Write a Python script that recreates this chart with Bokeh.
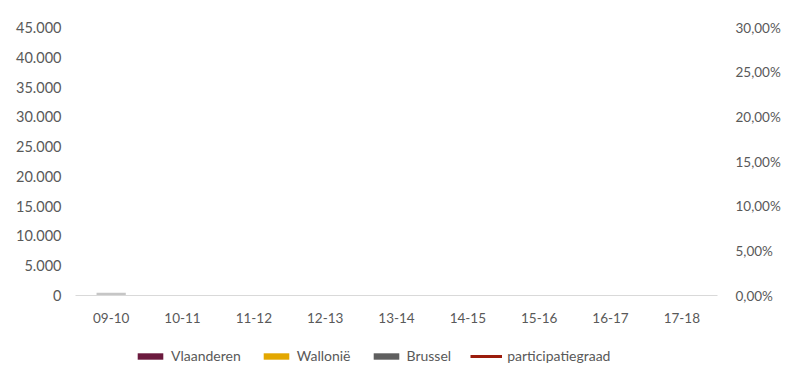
from bokeh.plotting import figure
from bokeh.layouts import column
from bokeh.models import (Range1d, LinearAxis, FixedTicker, CustomJSTickFormatter,
                          Legend, LegendItem, ColumnDataSource, FactorRange)
from bokeh.embed import file_html
from bokeh.resources import INLINE

categories = ["09-10", "10-11", "11-12", "12-13", "13-14", "14-15", "15-16", "16-17", "17-18"]
vlaanderen = [0, 0, 0, 0, 0, 0, 0, 0, 0]
wallonie = [0, 0, 0, 0, 0, 0, 0, 0, 0]
brussel = [450, 0, 0, 0, 0, 0, 0, 0, 0]
participatiegraad = [-1, -1, -1, -1, -1, -1, -1, -1, -1]  # not yet drawn (below range)
left_ticks = [0, 5000, 10000, 15000, 20000, 25000, 30000, 35000, 40000, 45000]
right_ticks = [0, 0.05, 0.10, 0.15, 0.20, 0.25, 0.30]
series_names = ["Vlaanderen", "Wallonië", "Brussel", "participatiegraad"]

FONT = "Lato"
TXT = "#595959"
C_VL, C_WA, C_BR, C_PG = "#6b1a3e", "#e3a700", "#5f5f5f", "#9b1c0c"

p = figure(x_range=FactorRange(*categories), y_range=Range1d(0, 45000),
           width=784, height=330, output_backend="svg", toolbar_location=None,
           min_border_left=75, min_border_right=67, min_border_top=27, min_border_bottom=35)
p.x_range.range_padding = 0
p.outline_line_color = None
p.xgrid.grid_line_color = None
p.ygrid.grid_line_color = None
p.extra_y_ranges = {"pct": Range1d(0, 0.30)}

src = ColumnDataSource(dict(cat=categories, vl=vlaanderen, wa=wallonie, br=brussel, pg=participatiegraad))
p.vbar_stack(["vl", "wa", "br"], x="cat", width=0.41, source=src,
             color=[C_VL, C_WA, "#c6c6c6"], line_color=None)
p.line(x="cat", y="pg", source=src, y_range_name="pct", line_color=C_PG, line_width=3)

xa = p.xaxis[0]
xa.axis_line_color = "#d9d9d9"
xa.major_tick_line_color = None
xa.minor_tick_line_color = None
xa.major_label_text_font = FONT
xa.major_label_text_font_size = "13.5px"
xa.major_label_text_color = TXT
xa.major_label_standoff = 11

ya = p.yaxis[0]
ya.ticker = FixedTicker(ticks=left_ticks)
ya.formatter = CustomJSTickFormatter(code="return tick.toFixed(0).replace(/\\B(?=(\\d{3})+(?!\\d))/g, '.');")
ya.axis_line_color = None
ya.major_tick_line_color = None
ya.minor_tick_line_color = None
ya.major_label_text_font = FONT
ya.major_label_text_font_size = "14.5px"
ya.major_label_text_color = TXT
ya.major_label_standoff = 8

ra = LinearAxis(y_range_name="pct", ticker=FixedTicker(ticks=right_ticks),
                formatter=CustomJSTickFormatter(code="return (tick*100).toFixed(2).replace('.', ',') + '%';"))
ra.axis_line_color = None
ra.major_tick_line_color = None
ra.minor_tick_line_color = None
ra.major_label_text_font = FONT
ra.major_label_text_font_size = "13.5px"
ra.major_label_text_color = TXT
ra.major_label_standoff = 12
p.add_layout(ra, "right")

# legend strip: proxies are zero-height bars / a line below the visible range
lf = figure(width=784, height=36, output_backend="svg", toolbar_location=None,
            x_range=FactorRange(*series_names), y_range=Range1d(1, 2),
            min_border=0, min_border_left=0, min_border_right=0, min_border_top=0, min_border_bottom=0)
lf.axis.visible = False
lf.grid.visible = False
lf.outline_line_color = None
lsrc = ColumnDataSource(dict(name=series_names, zero=[0] * len(series_names)))
lg1 = lf.vbar(x="name", top="zero", width=0.1, source=lsrc, fill_color=C_VL, line_color=None)
lg2 = lf.vbar(x="name", top="zero", width=0.1, source=lsrc, fill_color=C_WA, line_color=None)
lg3 = lf.vbar(x="name", top="zero", width=0.1, source=lsrc, fill_color=C_BR, line_color=None)
lg4 = lf.line(x="name", y="zero", source=lsrc, line_color=C_PG, line_width=3)
legend = Legend(items=[LegendItem(label=series_names[0], renderers=[lg1]),
                       LegendItem(label=series_names[1], renderers=[lg2]),
                       LegendItem(label=series_names[2], renderers=[lg3]),
                       LegendItem(label=series_names[3], renderers=[lg4])],
                orientation="horizontal", location=(59, 2),
                label_text_font=FONT, label_text_font_size="14px", label_text_color=TXT,
                glyph_width=32, glyph_height=8, spacing=19, label_standoff=5,
                border_line_color=None, background_fill_alpha=0, margin=0, padding=2)
lf.add_layout(legend, "center")

layout = column(p, lf, spacing=0)
open("out.html", "w").write(file_html(layout, INLINE))
